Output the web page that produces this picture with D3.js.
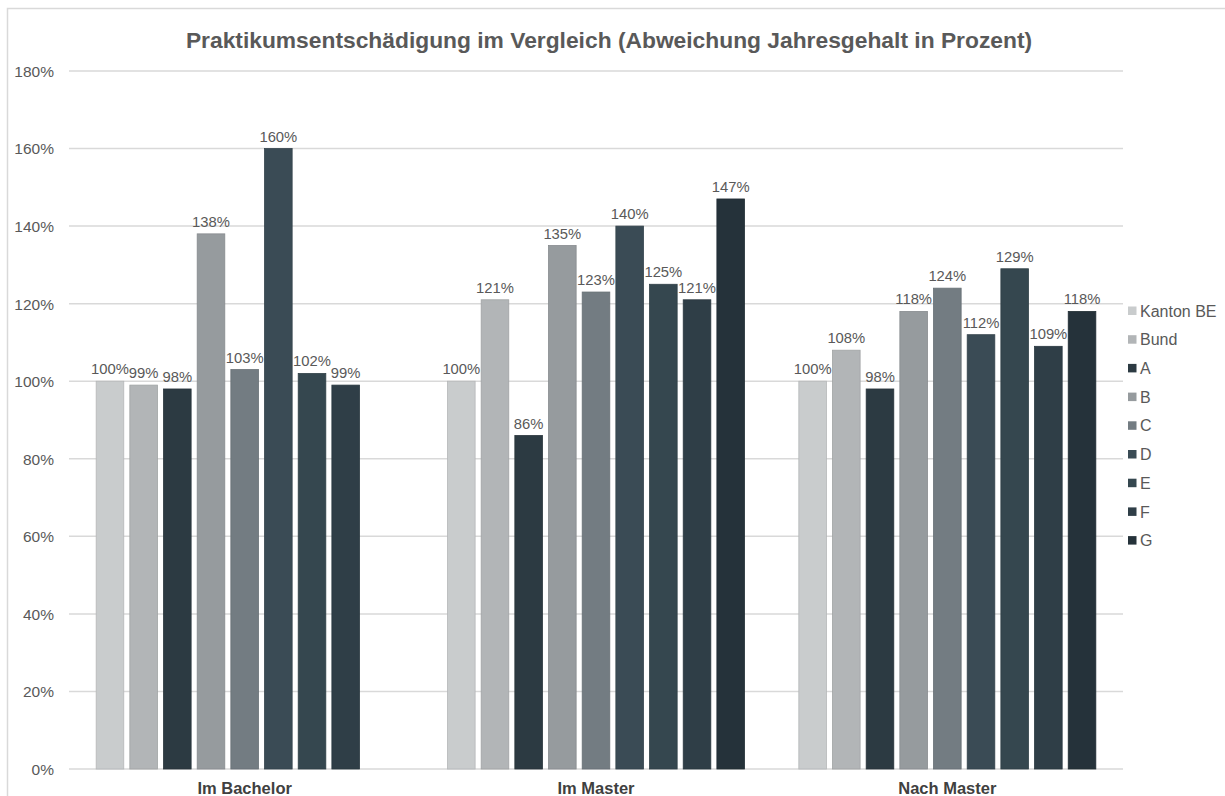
<!DOCTYPE html>
<html>
<head>
<meta charset="utf-8">
<script src="https://cdn.jsdelivr.net/npm/d3@7"></script>
<style>
  html, body { margin: 0; padding: 0; background: #fff; }
  svg { display: block; }
  text { font-family: "Liberation Sans", Arial, sans-serif; }
</style>
</head>
<body>
<svg id="chart" width="1225" height="796"></svg>
<script>
const title = "Praktikumsentschädigung im Vergleich (Abweichung Jahresgehalt in Prozent)";
const categories = ["Im Bachelor", "Im Master", "Nach Master"];
const seriesNames = ["Kanton BE", "Bund", "A", "B", "C", "D", "E", "F", "G"];
const seriesColors = ["#c9cccd", "#b2b5b7", "#2c3a42", "#969b9e", "#737c82", "#3a4b55", "#35474f", "#2f3e47", "#25323a"];
// values per series: [Im Bachelor, Im Master, Nach Master] (fraction)
const valKantonBE = [1.00, 1.00, 1.00];
const valBund     = [0.99, 1.21, 1.08];
const valA        = [0.98, 0.86, 0.98];
const valB        = [1.38, 1.35, 1.18];
const valC        = [1.03, 1.23, 1.24];
const valD        = [1.60, 1.40, 1.12];
const valE        = [1.02, 1.25, 1.29];
const valF        = [0.99, 1.21, 1.09];
const valG        = [null, 1.47, 1.18];
const seriesValues = [valKantonBE, valBund, valA, valB, valC, valD, valE, valF, valG];
const yTicks = [0, 0.2, 0.4, 0.6, 0.8, 1.0, 1.2, 1.4, 1.6, 1.8];

const svg = d3.select("#chart");
const W = 1225, H = 796;
const plot = { left: 69, right: 1123, top: 71, bottom: 769 };

// frame
svg.append("path")
  .attr("d", `M7.5,${H} L7.5,8.5 L${W},8.5`)
  .attr("fill", "none").attr("stroke", "#d9d9d9").attr("stroke-width", 1.5);

svg.append("text")
  .attr("x", 609).attr("y", 48)
  .attr("text-anchor", "middle")
  .attr("font-size", 22.8).attr("font-weight", "bold")
  .attr("fill", "#595959")
  .text(title);

const y = d3.scaleLinear().domain([0, 1.8]).range([plot.bottom, plot.top]);
const x0 = d3.scaleBand().domain(categories).range([plot.left, plot.right]).paddingInner(0).paddingOuter(0);
const groupInner = 297;
const x1 = d3.scaleBand().domain(seriesNames).range([0, groupInner]).paddingInner(0.18);

// gridlines
svg.append("g").selectAll("line").data(yTicks).join("line")
  .attr("x1", plot.left).attr("x2", plot.right)
  .attr("y1", d => y(d)).attr("y2", d => y(d))
  .attr("stroke", "#d9d9d9").attr("stroke-width", 1.5);

// y axis labels
const yAxis = d3.axisLeft(y).tickValues(yTicks).tickFormat(d3.format(".0%")).tickSize(0).tickPadding(0);
const yg = svg.append("g").attr("transform", `translate(54,0)`).call(yAxis);
yg.select(".domain").remove();
yg.selectAll("text").attr("font-size", 15.5).attr("fill", "#595959")
  .attr("font-family", "'Liberation Sans', Arial, sans-serif").attr("dy", "0.35em");

// bars
const data = [];
seriesNames.forEach((s, si) => {
  categories.forEach((c, ci) => {
    const v = seriesValues[si][ci];
    if (v !== null) data.push({ s, si, c, v });
  });
});
const groupOffset = (x0.bandwidth() - groupInner) / 2;
const bx = d => x0(d.c) + groupOffset + x1(d.s);

svg.append("g").selectAll("rect").data(data).join("rect")
  .attr("x", bx)
  .attr("y", d => y(d.v))
  .attr("width", x1.bandwidth())
  .attr("height", d => y(0) - y(d.v))
  .attr("fill", d => seriesColors[d.si])
  .attr("stroke", d => d3.color(seriesColors[d.si]).darker(0.3))
  .attr("stroke-width", 0.8);

svg.append("g").selectAll("text").data(data).join("text")
  .attr("x", d => bx(d) + x1.bandwidth() / 2)
  .attr("y", d => y(d.v) - 7)
  .attr("text-anchor", "middle")
  .attr("font-size", 14.8).attr("fill", "#595959")
  .text(d => d3.format(".0%")(d.v));

// category labels
svg.append("g").selectAll("text").data(categories).join("text")
  .attr("x", d => x0(d) + x0.bandwidth() / 2)
  .attr("y", 794)
  .attr("text-anchor", "middle")
  .attr("font-size", 16.5).attr("font-weight", "bold").attr("fill", "#404040")
  .text(d => d);

// legend
const leg = svg.append("g").selectAll("g").data(seriesNames).join("g")
  .attr("transform", (d, i) => `translate(1128,${311 + i * 28.7})`);
leg.append("rect").attr("x", 0).attr("y", -4.5).attr("width", 8.5).attr("height", 8.5)
  .attr("fill", (d, i) => seriesColors[i]);
leg.append("text").attr("x", 12).attr("y", 0).attr("dy", "0.35em")
  .attr("font-size", 16).attr("fill", "#595959").text(d => d);
</script>
</body>
</html>
